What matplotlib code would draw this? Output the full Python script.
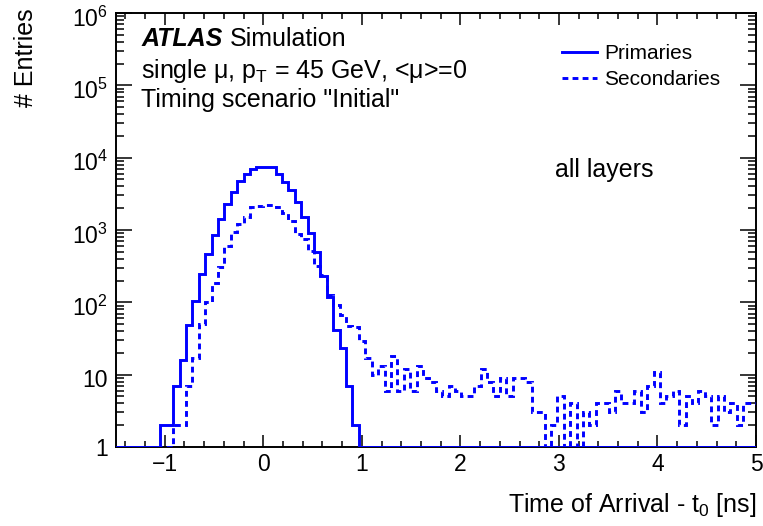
import numpy as np
import matplotlib
matplotlib.use("Agg")
import matplotlib.pyplot as plt
import matplotlib.transforms as mtransforms
from matplotlib.ticker import FixedLocator, FixedFormatter, MultipleLocator, NullFormatter, LogLocator

plt.rcParams['font.family'] = ['Liberation Sans', 'DejaVu Sans']
plt.rcParams['mathtext.fontset'] = 'custom'
plt.rcParams['mathtext.rm'] = 'Liberation Sans'
plt.rcParams['mathtext.it'] = 'Liberation Sans:italic'
plt.rcParams['mathtext.bf'] = 'Liberation Sans:bold'

#%% ── dados (contagens por bin, 100 bins de -1.5 a 5 ns) ─────────────────────
t_min, t_max, n_bins = -1.5, 5.0, 100

primaries = [
    0, 0, 0, 0, 0, 0, 0, 2, 2, 7,
    16, 49, 105, 247, 466, 861, 1435, 2290, 3350, 4810,
    5940, 6970, 7510, 7510, 7360, 5940, 4610, 3540, 2440, 1510,
    918, 497, 234, 118, 41, 23, 7, 2, 0, 0,
    0, 0, 0, 0, 0, 0, 0, 0, 0, 0,
    0, 0, 0, 0, 0, 0, 0, 0, 0, 0,
    0, 0, 0, 0, 0, 0, 0, 0, 0, 0,
    0, 0, 0, 0, 0, 0, 0, 0, 0, 0,
    0, 0, 0, 0, 0, 0, 0, 0, 0, 0,
    0, 0, 0, 0, 0, 0, 0, 0, 0, 0,
]

secondaries = [
    0, 0, 0, 0, 0, 0, 0, 0, 0, 2,
    2, 7, 17, 50, 102, 187, 311, 607, 940, 1210,
    1530, 2060, 2150, 2200, 2200, 2060, 1740, 1345, 880, 751,
    513, 321, 240, 128, 93, 67, 47, 46, 29, 17,
    10, 13, 6, 18, 6, 12, 6, 13, 9, 8,
    6, 5, 7, 6, 5, 5, 7, 12, 8, 5,
    9, 5, 9, 9, 8, 3, 3, 0, 2, 5,
    0, 4, 0, 3, 2, 4, 4, 3, 6, 4,
    4, 6, 3, 7, 11, 4, 5, 6, 2, 5,
    4, 6, 5, 2, 5, 3, 4, 2, 4, 4,
]

y_ticks = [1, 10, 100, 1e3, 1e4, 1e5, 1e6]
y_tick_labels = ['1', '10', '$10^{2}$', '$10^{3}$', '$10^{4}$', '$10^{5}$', '$10^{6}$']

edges = np.linspace(t_min, t_max, n_bins + 1)

#%% ── figura ────────────────────────────────────────────────────────────────
fig = plt.figure(figsize=(7.63, 5.26), dpi=100)
ax = fig.add_axes([0.1514, 0.1502, 0.8394, 0.8251])

# bins vazios desenhados na base do eixo (como no ROOT)
ax.stairs(np.maximum(secondaries, 1), edges, baseline=None, color='#0000ff',
          lw=2.1, linestyle=(0, (2.0, 1.45)), label='Secondaries', zorder=3)
ax.stairs(np.maximum(primaries, 1), edges, baseline=None, color='#0000ff',
          lw=2.1, label='Primaries', zorder=4)

ax.set_yscale('log')
ax.set_xlim(t_min, t_max)
ax.set_ylim(1, 1e6)

ax.xaxis.set_major_locator(MultipleLocator(1))
ax.xaxis.set_minor_locator(MultipleLocator(0.2))
ax.yaxis.set_major_locator(FixedLocator(y_ticks))
ax.yaxis.set_major_formatter(FixedFormatter(y_tick_labels))
ax.yaxis.set_minor_locator(LogLocator(base=10, subs=np.arange(2, 10)))
ax.yaxis.set_minor_formatter(NullFormatter())

ax.tick_params(which='both', direction='in', top=True, right=True, width=1.1, labelsize=16.5)
ax.tick_params(axis='x', which='major', length=8.6, pad=4)
ax.tick_params(axis='x', which='minor', length=4.3)
ax.tick_params(axis='y', which='major', length=11.5, pad=5.5)
ax.tick_params(axis='y', which='minor', length=5.8)
for s in ax.spines.values():
    s.set_linewidth(1.4)

# rótulos com expoente um pouco mais abaixo, como no ROOT
shift = mtransforms.ScaledTranslation(0, -3.5 / 100, fig.dpi_scale_trans)
for lab in ax.get_yticklabels()[1:]:
    lab.set_transform(lab.get_transform() + shift)

ax.set_xlabel('Time of Arrival - t$_{0}$ [ns]', fontsize=18, ha='right', va='baseline')
ax.xaxis.set_label_coords(1.0, -0.150)
ax.set_ylabel('# Entries', fontsize=18, ha='right')
ax.yaxis.set_label_coords(-0.121, 1.011)

# textos
ax.text(0.040, 0.9247, 'ATLAS', transform=ax.transAxes, fontsize=18,
        fontweight='bold', fontstyle='italic', va='baseline')
ax.text(0.178, 0.9247, 'Simulation', transform=ax.transAxes, fontsize=18, va='baseline')
ax.text(0.040, 0.8495, 'single μ, p$_{\\mathrm{T}}$ = 45 GeV, <μ>=0', transform=ax.transAxes,
        fontsize=18, va='baseline')
ax.text(0.040, 0.784, 'Timing scenario "Initial"', transform=ax.transAxes, fontsize=18,
        va='baseline')
ax.text(0.686, 0.623, 'all layers', transform=ax.transAxes, fontsize=18, va='baseline')

handles, labels = ax.get_legend_handles_labels()
leg = ax.legend(handles[::-1], labels[::-1], loc='upper left', bbox_to_anchor=(0.6966, 0.928),
                frameon=False, fontsize=15, handlelength=1.72, handletextpad=0.32,
                labelspacing=0.33, borderpad=0, borderaxespad=0)

fig.savefig('out.png', dpi=100)
